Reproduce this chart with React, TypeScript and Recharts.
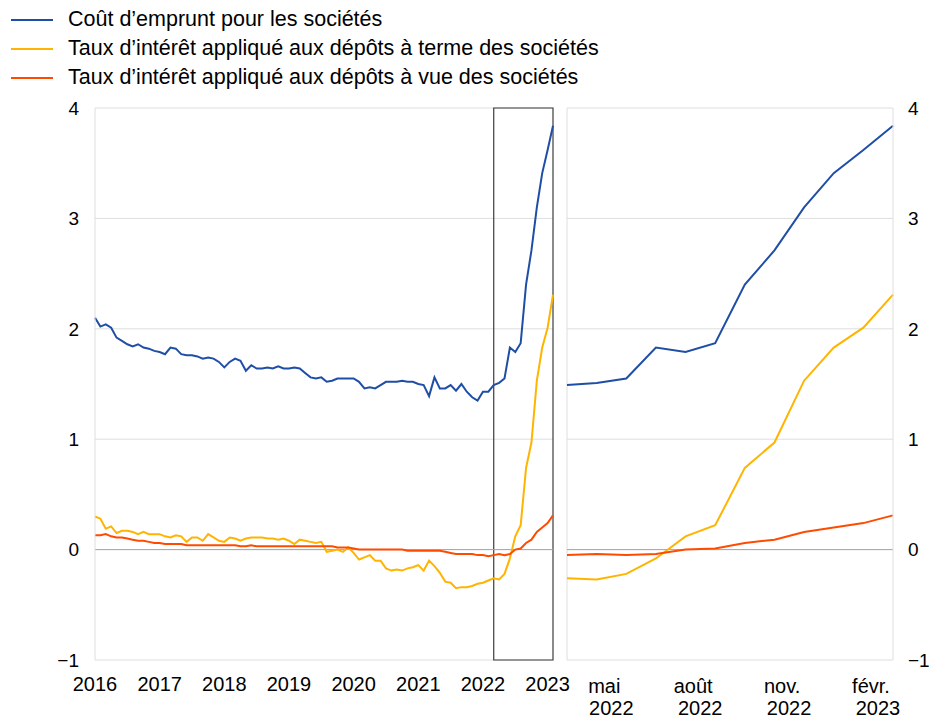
import React from 'react';
import {
  LineChart,
  Line,
  XAxis,
  YAxis,
  CartesianGrid,
  ReferenceLine,
  ReferenceArea,
} from 'recharts';

// Monthly data, Jan 2016 - Feb 2023 (%)
const START_YEAR = 2016;
const MONTHS = ['janv.', 'févr.', 'mars', 'avr.', 'mai', 'juin', 'juil.', 'août', 'sept.', 'oct.', 'nov.', 'déc.'];

const borrowingCost = [
  2.10, 2.02, 2.04, 2.01, 1.92, 1.89, 1.86, 1.84, 1.86, 1.83, 1.82, 1.80,
  1.79, 1.77, 1.83, 1.82, 1.77, 1.76, 1.76, 1.75, 1.73, 1.74, 1.73, 1.70,
  1.65, 1.70, 1.73, 1.71, 1.62, 1.67, 1.64, 1.64, 1.65, 1.64, 1.66, 1.64,
  1.64, 1.65, 1.64, 1.60, 1.56, 1.55, 1.56, 1.52, 1.53, 1.55, 1.55, 1.55,
  1.55, 1.52, 1.46, 1.47, 1.46, 1.49, 1.52, 1.52, 1.52, 1.53, 1.52, 1.52,
  1.50, 1.49, 1.39, 1.56, 1.46, 1.46, 1.49, 1.44, 1.50, 1.43, 1.38, 1.35,
  1.43, 1.43,
  1.49, 1.51, 1.55, 1.83, 1.79, 1.87, 2.40, 2.71, 3.10, 3.41, 3.62, 3.84,
];

const termDepositRate = [
  0.30, 0.28, 0.19, 0.21, 0.15, 0.17, 0.17, 0.16, 0.14, 0.16, 0.14, 0.14,
  0.14, 0.12, 0.11, 0.13, 0.12, 0.07, 0.11, 0.11, 0.08, 0.14, 0.11, 0.08,
  0.07, 0.11, 0.10, 0.08, 0.10, 0.11, 0.11, 0.11, 0.10, 0.10, 0.09, 0.10,
  0.08, 0.05, 0.09, 0.08, 0.07, 0.06, 0.07, -0.02, -0.01, 0.00, -0.02, 0.02,
  -0.03, -0.09, -0.07, -0.05, -0.10, -0.10, -0.17, -0.19, -0.18, -0.19, -0.17, -0.16,
  -0.14, -0.19, -0.10, -0.15, -0.21, -0.29, -0.30, -0.35, -0.34, -0.34, -0.33, -0.31,
  -0.30, -0.28,
  -0.26, -0.27, -0.22, -0.08, 0.12, 0.22, 0.74, 0.97, 1.53, 1.83, 2.01, 2.31,
];

const overnightDepositRate = [
  0.13, 0.13, 0.14, 0.12, 0.11, 0.11, 0.10, 0.09, 0.08, 0.08, 0.07, 0.06,
  0.06, 0.05, 0.05, 0.05, 0.05, 0.04, 0.04, 0.04, 0.04, 0.04, 0.04, 0.04,
  0.04, 0.04, 0.04, 0.03, 0.03, 0.04, 0.03, 0.03, 0.03, 0.03, 0.03, 0.03,
  0.03, 0.03, 0.03, 0.03, 0.03, 0.03, 0.03, 0.03, 0.03, 0.02, 0.02, 0.02,
  0.01, 0.00, 0.00, 0.00, 0.00, 0.00, 0.00, 0.00, 0.00, 0.00, -0.01, -0.01,
  -0.01, -0.01, -0.01, -0.01, -0.01, -0.02, -0.03, -0.04, -0.04, -0.04, -0.04, -0.05,
  -0.05, -0.06,
  -0.05, -0.04, -0.05, -0.04, 0.00, 0.01, 0.06, 0.09, 0.16, 0.20, 0.24, 0.31,
];

const ZOOM_MONTHS = 12;
const yTicks = [-1, 0, 1, 2, 3, 4];
const yearTicks = [0, 12, 24, 36, 48, 60, 72, 84];
const zoomTicks = [2, 5, 8, 11];

const SERIES = [
  { key: 'borrowing', name: 'Coût d’emprunt pour les sociétés', color: '#1f4ea6' },
  { key: 'term', name: 'Taux d’intérêt appliqué aux dépôts à terme des sociétés', color: '#ffb400' },
  { key: 'overnight', name: 'Taux d’intérêt appliqué aux dépôts à vue des sociétés', color: '#ff4b00' },
];

const rows = borrowingCost.map((v, i) => ({
  idx: i,
  year: START_YEAR + Math.floor(i / 12),
  month: MONTHS[i % 12],
  borrowing: v,
  term: termDepositRate[i],
  overnight: overnightDepositRate[i],
}));

const zoomStart = rows.length - ZOOM_MONTHS;
const zoomRows = rows.slice(zoomStart).map((r, i) => ({ ...r, idx: i }));

const FONT = '"Liberation Sans", Arial, sans-serif';
const GRID = '#dedede';
const AXIS_Y = 660;

function YearTick({ x, payload }: any) {
  const r = rows[payload.value];
  return (
    <text x={x} y={AXIS_Y + 31} textAnchor="middle" fontSize={20} fill="#000" fontFamily={FONT}>
      {r ? r.year : ''}
    </text>
  );
}

// two-line label, sitting a little left of its month
function MonthTick({ x, payload }: any) {
  const r = zoomRows[payload.value];
  if (!r) return null;
  return (
    <text textAnchor="middle" fontSize={20} fill="#000" fontFamily={FONT}>
      <tspan x={x - 22} y={AXIS_Y + 33}>{r.month}</tspan>
      <tspan x={x - 15} y={AXIS_Y + 55}>{r.year}</tspan>
    </text>
  );
}

const fmt = (v: number) => (v < 0 ? `−${Math.abs(v)}` : `${v}`);

function lines() {
  return SERIES.map((s) => (
    <Line
      key={s.key}
      type="linear"
      dataKey={s.key}
      stroke={s.color}
      strokeWidth={2}
      dot={false}
      isAnimationActive={false}
    />
  ));
}

export default function App() {
  return (
    <div style={{ position: 'absolute', left: 0, top: 0, width: 930, height: 720, background: '#fff', fontFamily: FONT }}>
      <div style={{ position: 'absolute', left: 0, top: 5 }}>
        {SERIES.map((s) => (
          <div key={s.key} style={{ display: 'flex', alignItems: 'center', height: 29, fontSize: 21.5, color: '#000', whiteSpace: 'nowrap' }}>
            <span style={{ display: 'inline-block', width: 42, height: 2, background: s.color, marginLeft: 11, marginRight: 15 }} />
            <span>{s.name}</span>
          </div>
        ))}
      </div>

      <div style={{ position: 'absolute', left: 0, top: 0 }}>
        <LineChart width={580} height={720} data={rows} margin={{ top: 108, right: 27, left: 0, bottom: 0 }}>
          <CartesianGrid vertical={false} stroke={GRID} />
          <XAxis
            dataKey="idx"
            type="number"
            domain={[0, rows.length - 1]}
            ticks={yearTicks}
            tick={<YearTick />}
            tickLine={false}
            tickSize={0}
            tickMargin={0}
            axisLine={false}
            height={60}
            interval={0}
          />
          <YAxis
            domain={[-1, 4]}
            ticks={yTicks}
            width={95}
            tickLine={false}
            tickSize={0}
            tickMargin={16}
            axisLine={{ stroke: GRID }}
            tick={{ fill: '#000', fontSize: 19, fontFamily: FONT }}
            tickFormatter={fmt}
          />
          <ReferenceLine y={0} stroke="#a6a6a6" />
          {lines()}
          <ReferenceArea x1={zoomStart} x2={rows.length - 1} y1={-1} y2={4} fill="none" stroke="#3c3c3c" strokeWidth={1.2} ifOverflow="visible" />
        </LineChart>
      </div>

      <div style={{ position: 'absolute', left: 560, top: 0 }}>
        <LineChart width={370} height={720} data={zoomRows} margin={{ top: 108, right: 0, left: 7, bottom: 0 }}>
          <CartesianGrid vertical={false} stroke={GRID} />
          <XAxis
            dataKey="idx"
            type="number"
            domain={[0, ZOOM_MONTHS - 1]}
            ticks={zoomTicks}
            tick={<MonthTick />}
            tickLine={false}
            tickSize={0}
            tickMargin={0}
            axisLine={false}
            height={60}
            interval={0}
          />
          <YAxis
            orientation="right"
            domain={[-1, 4]}
            ticks={yTicks}
            width={37}
            tickLine={false}
            tickSize={0}
            tickMargin={15}
            axisLine={{ stroke: GRID }}
            tick={{ fill: '#000', fontSize: 19, fontFamily: FONT, textAnchor: 'start' }}
            tickFormatter={fmt}
          />
          <ReferenceLine x={0} stroke={GRID} />
          <ReferenceLine y={0} stroke="#a6a6a6" />
          {lines()}
        </LineChart>
      </div>
    </div>
  );
}
